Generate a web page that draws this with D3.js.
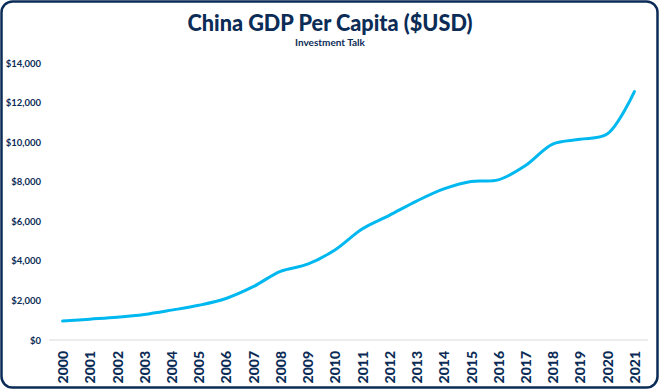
<!DOCTYPE html>
<html><head><meta charset="utf-8">
<script src="https://cdn.jsdelivr.net/npm/d3@7"></script>
<style>body{margin:0;background:#fff}svg{display:block}</style>
</head><body>
<svg id="c" width="660" height="390"></svg>
<script>
const years = ["2000","2001","2002","2003","2004","2005","2006","2007","2008","2009","2010","2011","2012","2013","2014","2015","2016","2017","2018","2019","2020","2021"];
const gdpPerCapita = [959,1053,1149,1289,1509,1753,2099,2694,3468,3832,4550,5614,6301,7020,7636,8016,8094,8817,9905,10144,10409,12556];
const yTicks = [0,2000,4000,6000,8000,10000,12000,14000];
const title = "China GDP Per Capita ($USD)";
const subtitle = "Investment Talk";

const navy = "#0B2C56";
const svg = d3.select("#c");
svg.append("rect").attr("x",1.5).attr("y",1.5).attr("width",656).attr("height",386)
  .attr("rx",11).attr("fill","#fff").attr("stroke",navy).attr("stroke-width",2.5);

svg.append("text").attr("x",330).attr("y",31).attr("text-anchor","middle")
  .attr("font-family","Lato, 'Open Sans', sans-serif").attr("font-weight",900)
  .attr("font-size",23).attr("fill",navy).attr("textLength",285).attr("lengthAdjust","spacingAndGlyphs").text(title);
svg.append("text").attr("x",330).attr("y",46).attr("text-anchor","middle")
  .attr("font-family","Lato, 'Open Sans', sans-serif").attr("font-weight","bold")
  .attr("font-size",10).attr("fill",navy).text(subtitle);

const x = d3.scaleBand().domain(years).range([49,648]);
const y = d3.scaleLinear().domain([0,14000]).range([340,63]);

// baseline gridline
svg.append("line").attr("x1",49).attr("x2",648).attr("y1",y(0)).attr("y2",y(0))
  .attr("stroke","#D9D9D9").attr("stroke-width",1);

const fmt = d => "$" + d3.format(",")(d);
const yAxis = svg.append("g").attr("transform","translate(41,0)")
  .call(d3.axisLeft(y).tickValues(yTicks).tickFormat(fmt).tickSize(0).tickPadding(0));
yAxis.select(".domain").remove();
yAxis.selectAll("text").attr("font-family","Lato, 'Open Sans', sans-serif").attr("font-weight","bold")
  .attr("font-size",9.5).attr("fill",navy);

const xAxis = svg.append("g").attr("transform",`translate(0,${y(0)})`)
  .call(d3.axisBottom(x).tickSize(0).tickPadding(0));
xAxis.select(".domain").remove();
xAxis.selectAll("text").attr("font-family","Lato, 'Open Sans', sans-serif").attr("font-weight",900)
  .attr("font-size",14).attr("fill",navy)
  .attr("text-anchor","end").attr("dy",null)
  .attr("transform","translate(0,11) rotate(-90)").attr("dominant-baseline","central");

const line = d3.line()
  .x((d,i) => x(years[i]) + x.bandwidth()/2)
  .y(d => y(d))
  .curve(d3.curveCatmullRom.alpha(0.5));
svg.append("path").datum(gdpPerCapita).attr("d",line)
  .attr("fill","none").attr("stroke","#00B8F0").attr("stroke-width",3).attr("stroke-linecap","round");
</script>
</body></html>
